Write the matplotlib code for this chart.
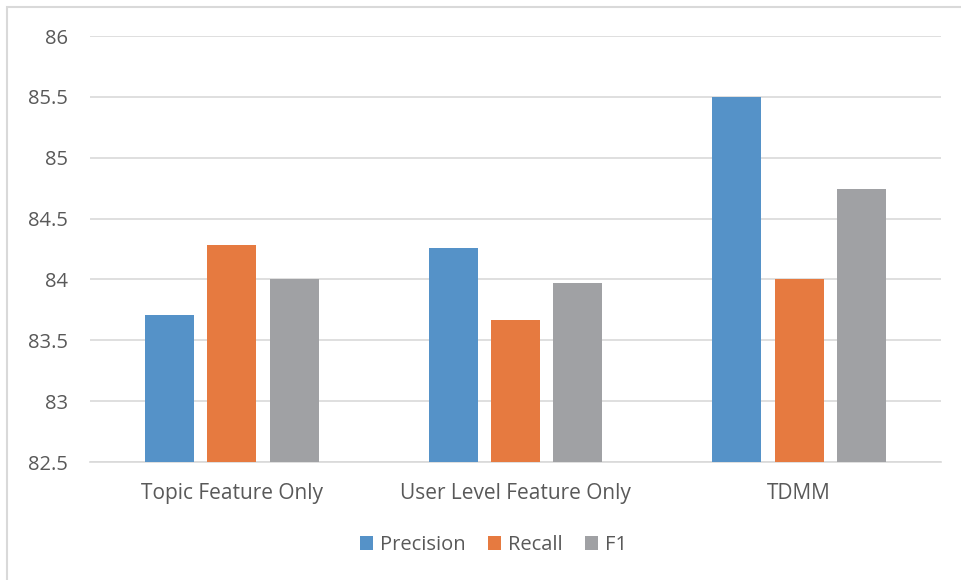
import matplotlib.pyplot as plt
import numpy as np
from matplotlib.patches import Rectangle

categories = ["Topic Feature Only", "User Level Feature Only", "TDMM"]
series = ["Precision", "Recall", "F1"]
precision = [83.71, 84.26, 85.50]
recall = [84.28, 83.67, 84.00]
f1 = [84.00, 83.97, 84.74]
yticks = [82.5, 83, 83.5, 84, 84.5, 85, 85.5, 86]

colors = ["#5592C8", "#E67A40", "#A0A1A4"]
textcol = "#595959"

plt.rcParams['font.family'] = ['Open Sans', 'DejaVu Sans']

fig = plt.figure(figsize=(9.61, 5.8), dpi=100)
ax = fig.add_axes([90/961, 1-462/580, 851/961, 426/580])

x = np.arange(len(categories))
width = 0.173
pitch = 0.22
for i, (vals, name) in enumerate(zip([precision, recall, f1], series)):
	ax.bar(x+(i-1)*pitch, np.array(vals)-82.5, width, bottom=82.5,
		color=colors[i], label=name, zorder=3)

ax.set_xlim(-0.5, 2.5)
ax.set_ylim(82.5, 86)
ax.set_yticks(yticks)
ax.set_yticklabels(["%g" % t for t in yticks])
ax.set_xticks(x)
ax.set_xticklabels(categories)
ax.grid(axis='y', color="#D9D9D9", linewidth=1.2, zorder=0)
for s in ['top', 'right', 'left']:
	ax.spines[s].set_visible(False)
ax.spines['bottom'].set_color("#D9D9D9")
ax.spines['bottom'].set_linewidth(1.2)
ax.tick_params(axis='both', length=0, colors=textcol)
ax.tick_params(axis='y', pad=16, labelsize=14.5)
ax.tick_params(axis='x', pad=15, labelsize=15)

ax.legend(loc='center', bbox_to_anchor=(0.474, -0.195), ncol=3, frameon=False,
	fontsize=14.5, labelcolor=textcol, handlelength=0.65, handleheight=0.65,
	handletextpad=0.35, columnspacing=1.1)

# outer chart border (only top and left edges fall inside the canvas)
fig.patches.append(Rectangle((7/961, -0.1), 1.1, 1-7/580+0.1, transform=fig.transFigure,
	fill=False, edgecolor="#D9D9D9", linewidth=1.5))

fig.savefig("out.png", dpi=100)
